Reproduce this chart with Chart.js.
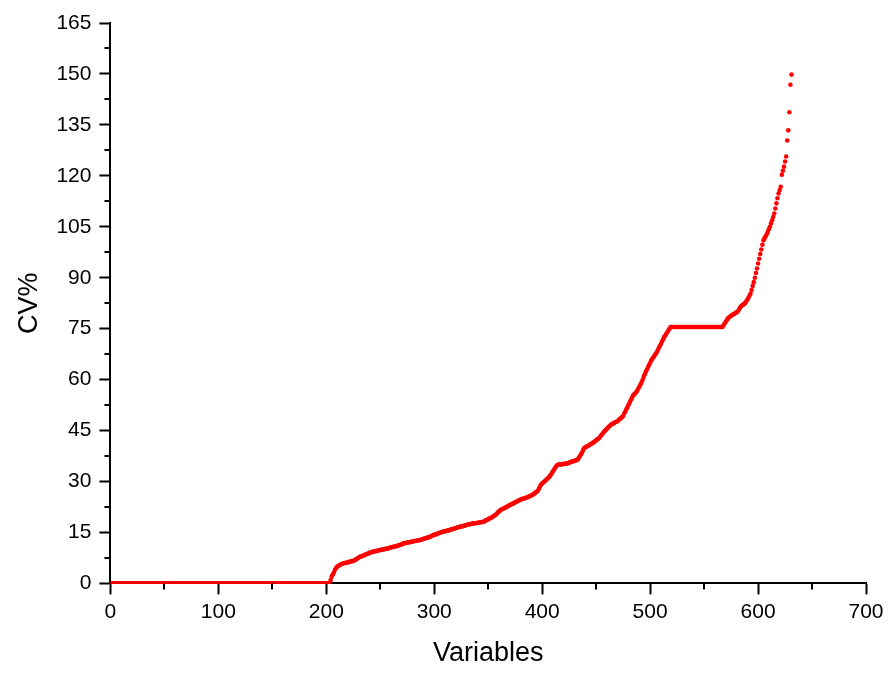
<!DOCTYPE html>
<html>
<head>
<meta charset="utf-8">
<script src="https://cdn.jsdelivr.net/npm/chart.js@4"></script>
<style>
html,body{margin:0;padding:0;background:#fff;}
#wrap{width:891px;height:673px;position:relative;}
</style>
</head>
<body>
<div id="wrap"><canvas id="c" width="891" height="673"></canvas></div>
<script>
// CV% for variables 1..631 (sorted ascending)
const cvZeros = [
0,0,0,0,0,0,0,0,0,0, 0,0,0,0,0,0,0,0,0,0, 0,0,0,0,0,0,0,0,0,0, 0,0,0,0,0,0,0,0,0,0,
0,0,0,0,0,0,0,0,0,0, 0,0,0,0,0,0,0,0,0,0, 0,0,0,0,0,0,0,0,0,0, 0,0,0,0,0,0,0,0,0,0,
0,0,0,0,0,0,0,0,0,0, 0,0,0,0,0,0,0,0,0,0, 0,0,0,0,0,0,0,0,0,0, 0,0,0,0,0,0,0,0,0,0,
0,0,0,0,0,0,0,0,0,0, 0,0,0,0,0,0,0,0,0,0, 0,0,0,0,0,0,0,0,0,0, 0,0,0,0,0,0,0,0,0,0,
0,0,0,0,0,0,0,0,0,0, 0,0,0,0,0,0,0,0,0,0, 0,0,0,0,0,0,0,0,0,0, 0,0,0,0,0,0,0,0,0,0,
0,0,0
];
const cvRising = [
1.0,2.0,2.6,3.2,4.0,4.5,4.9,5.1,5.3,5.5,
5.7,5.8,5.9,6.0,6.1,6.1,6.2,6.3,6.4,6.5,
6.5,6.6,6.8,7.0,7.2,7.4,7.6,7.8,7.9,8.0,
8.2,8.3,8.4,8.6,8.7,8.8,9.0,9.1,9.2,9.3,
9.4,9.5,9.5,9.6,9.7,9.8,9.8,9.9,10.0,10.0,
10.1,10.2,10.2,10.3,10.4,10.5,10.6,10.7,10.8,10.8,
10.9,11.0,11.1,11.2,11.3,11.4,11.5,11.7,11.8,11.9,
11.9,12.0,12.1,12.1,12.2,12.3,12.3,12.4,12.5,12.5,
12.6,12.7,12.7,12.8,12.9,13.0,13.1,13.2,13.3,13.4,
13.5,13.6,13.7,13.9,14.0,14.2,14.3,14.4,14.5,14.6,
14.8,14.9,15.0,15.1,15.2,15.3,15.4,15.4,15.5,15.6,
15.7,15.8,15.9,16.0,16.1,16.2,16.3,16.4,16.5,16.6,
16.7,16.8,16.8,16.9,17.0,17.1,17.2,17.3,17.4,17.4,
17.5,17.6,17.6,17.7,17.7,17.8,17.8,17.9,17.9,18.0,
18.1,18.1,18.2,18.4,18.6,18.7,18.9,19.1,19.2,19.4,
19.6,19.8,20.0,20.2,20.6,20.9,21.2,21.5,21.7,21.9,
22.0,22.2,22.3,22.5,22.7,22.9,23.0,23.2,23.4,23.5,
23.7,23.9,24.0,24.2,24.4,24.5,24.7,24.8,24.9,25.0,
25.1,25.2,25.3,25.5,25.6,25.8,25.9,26.1,26.3,26.5,
26.8,27.0,27.3,27.9,28.5,29.1,29.4,29.7,30.0,30.3,
30.6,30.9,31.2,31.5,32.0,32.5,33.0,33.5,34.0,34.5,
34.8,35.0,35.0,35.0,35.1,35.1,35.2,35.2,35.3,35.3,
35.4,35.5,35.7,35.8,35.9,36.0,36.1,36.2,36.4,36.5,
37.0,37.5,38.0,38.6,39.3,39.9,40.1,40.3,40.4,40.6,
40.8,41.0,41.2,41.4,41.6,41.9,42.1,42.4,42.6,42.9,
43.3,43.7,44.1,44.5,44.9,45.2,45.5,45.9,46.2,46.5,
46.8,47.0,47.1,47.3,47.5,47.6,47.8,48.1,48.4,48.7,
49.0,49.3,50.0,50.6,51.3,51.9,52.6,53.2,53.9,54.5,
55.2,55.6,55.9,56.3,56.7,57.3,57.9,58.5,59.1,59.9,
60.8,61.6,62.3,62.9,63.6,64.3,64.9,65.6,66.1,66.6,
67.0,67.5,68.0,68.6,69.3,69.9,70.5,71.2,71.8,72.5,
73.0,73.5,74.0,74.5,75.0,75.5
];
const cvPlateau = [
75.5,75.5,75.5,75.5,75.5,75.5,75.5,75.5,75.5,75.5,
75.5,75.5,75.5,75.5,75.5,75.5,75.5,75.5,75.5,75.5,
75.5,75.5,75.5,75.5,75.5,75.5,75.5,75.5,75.5,75.5,
75.5,75.5,75.5,75.5,75.5,75.5,75.5,75.5,75.5,75.5,
75.5,75.5,75.5,75.5,75.5,75.5,75.5,75.5
];
const cvTail = [
76.0,76.5,77.0,77.5,78.0,78.3,78.5,78.8,79.0,79.2,
79.4,79.6,79.8,80.0,80.5,81.0,81.5,81.8,82.0,82.3,
82.5,83.0,83.5,84.0,84.7,85.3,86.4,87.6,88.7,90.0,
91.4,92.7,94.2,95.6,97.0,98.3,99.7,101.0,101.6,102.2,
102.8,103.5,104.3,105.0,106.0,106.9,107.9,108.9,110.4,
111.9,113.4,114.8,115.8,116.8,120.3,121.5,122.7,124.2,125.7,
130.4,133.4,138.7,146.8,149.8
];
const xTicks = [0,100,200,300,400,500,600,700];
const xMinorTicks = [50,150,250,350,450,550,650];
const yTicks = [0,15,30,45,60,75,90,105,120,135,150,165];
const yMinorTicks = [7.5,22.5,37.5,52.5,67.5,82.5,97.5,112.5,127.5,142.5,157.5];
const xTitle = 'Variables';
const yTitle = 'CV%';

const cv = cvZeros.concat(cvRising, cvPlateau, cvTail);
const points = cv.map((v, i) => ({x: i + 1, y: v}));

const minorTicks = {
  id: 'minorTicks',
  afterDraw(chart) {
    const ctx = chart.ctx;
    const xs = chart.scales.x, ys = chart.scales.y;
    ctx.save();
    ctx.strokeStyle = '#000';
    ctx.lineWidth = 2;
    ctx.beginPath();
    xMinorTicks.forEach(v => {
      const px = Math.round(xs.getPixelForValue(v));
      ctx.moveTo(px, ys.bottom);
      ctx.lineTo(px, ys.bottom + 6);
    });
    yMinorTicks.forEach(v => {
      const py = Math.round(ys.getPixelForValue(v));
      ctx.moveTo(xs.left, py);
      ctx.lineTo(xs.left - 6, py);
    });
    ctx.stroke();
    ctx.restore();
  }
};

const FONT = 'Liberation Sans, Arial, sans-serif';

new Chart(document.getElementById('c'), {
  type: 'scatter',
  data: {
    datasets: [{
      data: points,
      backgroundColor: '#ff0000',
      borderColor: '#ff0000',
      borderWidth: 0,
      pointRadius: 2.3,
      pointHoverRadius: 2.3
    }]
  },
  options: {
    responsive: false,
    animation: false,
    events: [],
    layout: {padding: {left: 13, right: 25, top: 23, bottom: 3}},
    plugins: {legend: {display: false}, tooltip: {enabled: false}},
    scales: {
      x: {
        type: 'linear', min: 0, max: 700,
        afterBuildTicks: s => { s.ticks = xTicks.map(v => ({value: v})); },
        ticks: {color: '#000', font: {family: FONT, size: 21}, padding: 5, maxRotation: 0},
        grid: {drawOnChartArea: false, tickLength: 11, tickWidth: 2, tickColor: '#000'},
        border: {display: true, color: '#000', width: 2},
        title: {display: true, text: xTitle, color: '#000', font: {family: FONT, size: 27}, padding: {top: 8, bottom: 0}}
      },
      y: {
        type: 'linear', min: 0, max: 165,
        afterBuildTicks: s => { s.ticks = yTicks.map(v => ({value: v})); },
        ticks: {color: '#000', font: {family: FONT, size: 21}, padding: 8},
        grid: {drawOnChartArea: false, tickLength: 11, tickWidth: 2, tickColor: '#000'},
        border: {display: true, color: '#000', width: 2},
        title: {display: true, text: yTitle, color: '#000', font: {family: FONT, size: 27}, padding: {top: 0, bottom: 3}}
      }
    }
  },
  plugins: [minorTicks]
});
</script>
</body>
</html>
